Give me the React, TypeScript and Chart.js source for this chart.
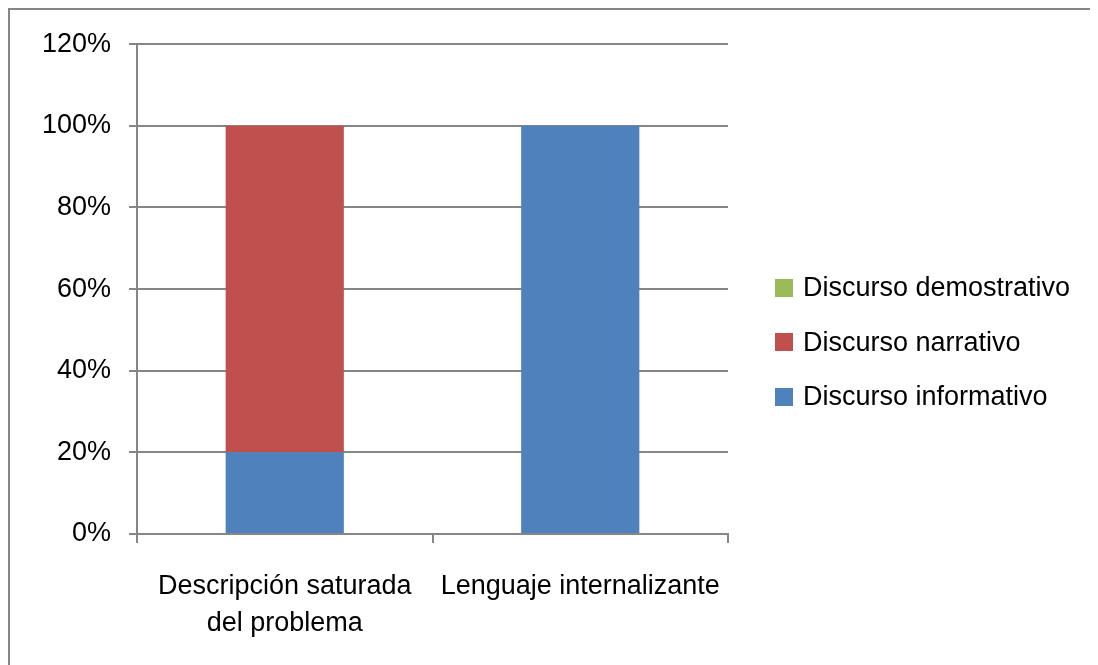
import React, { useEffect, useRef } from "react";
import { Chart, registerables } from "chart.js";

Chart.register(...registerables);

const categories: (string | string[])[] = [["Descripción saturada", "del problema"], "Lenguaje internalizante"];
const seriesNames = ["Discurso informativo", "Discurso narrativo", "Discurso demostrativo"];
const informativo = [20, 100];
const narrativo = [80, 0];
const demostrativo = [0, 0];
const seriesColors = ["#4F81BD", "#C0504D", "#9BBB59"];
const yTicks = [0, 20, 40, 60, 80, 100, 120];

const FONT = "'Liberation Sans', Arial, sans-serif";
const GRAY = "#868686";

export default function App() {
  const ref = useRef<HTMLCanvasElement>(null);

  useEffect(() => {
    document.body.style.overflow = "hidden";
    if (!ref.current) return;
    const values = [informativo, narrativo, demostrativo];
    const chart = new Chart(ref.current, {
      type: "bar",
      data: {
        labels: categories,
        datasets: seriesNames.map((name, i) => ({
          label: name,
          data: values[i],
          backgroundColor: seriesColors[i],
          borderWidth: 0,
          barPercentage: 0.4,
          categoryPercentage: 1,
        })),
      },
      options: {
        animation: false,
        responsive: false,
        devicePixelRatio: 1,
        layout: { padding: { top: 32, left: 0, right: 360, bottom: 0 } },
        plugins: { legend: { display: false }, tooltip: { enabled: false } },
        scales: {
          x: {
            stacked: true,
            offset: true,
            grid: {
              offset: true,
              drawOnChartArea: false,
              drawTicks: true,
              tickLength: 9,
              color: GRAY,
              lineWidth: 2,
            },
            border: { display: true, color: GRAY, width: 2 },
            ticks: {
              color: "#000",
              padding: 25,
              maxRotation: 0,
              autoSkip: false,
              font: { family: FONT, size: 27, lineHeight: 1.37 },
            },
            afterFit: (s: any) => {
              s.height = 121;
            },
          },
          y: {
            stacked: true,
            min: 0,
            max: 120,
            afterBuildTicks: (s: any) => {
              s.ticks = yTicks.map((v) => ({ value: v }));
            },
            grid: { color: GRAY, lineWidth: 2, tickLength: 8, drawTicks: true },
            border: { display: true, color: GRAY, width: 2 },
            ticks: {
              color: "#000",
              padding: 18,
              font: { family: FONT, size: 27 },
              callback: (v: any) => v + "%",
            },
            afterFit: (s: any) => {
              s.width = 127;
            },
          },
        },
      },
    });
    return () => chart.destroy();
  }, []);

  const legendOrder = [2, 1, 0];
  const legendCenters = [277.5, 332, 386.5];

  return (
    <div
      style={{
        position: "relative",
        width: 1088,
        height: 657,
        borderTop: `2px solid ${GRAY}`,
        borderLeft: `2px solid ${GRAY}`,
      }}
    >
      <canvas ref={ref} width={1078} height={645} style={{ display: "block" }} />
      {legendOrder.map((idx, i) => (
        <div
          key={seriesNames[idx]}
          style={{
            position: "absolute",
            left: 765,
            top: legendCenters[i] - 16,
            height: 32,
            display: "flex",
            alignItems: "center",
            fontFamily: FONT,
            fontSize: 27,
            color: "#000",
            whiteSpace: "nowrap",
          }}
        >
          <span
            style={{
              display: "inline-block",
              width: 18,
              height: 18,
              background: seriesColors[idx],
              marginRight: 10,
            }}
          />
          {seriesNames[idx]}
        </div>
      ))}
    </div>
  );
}
